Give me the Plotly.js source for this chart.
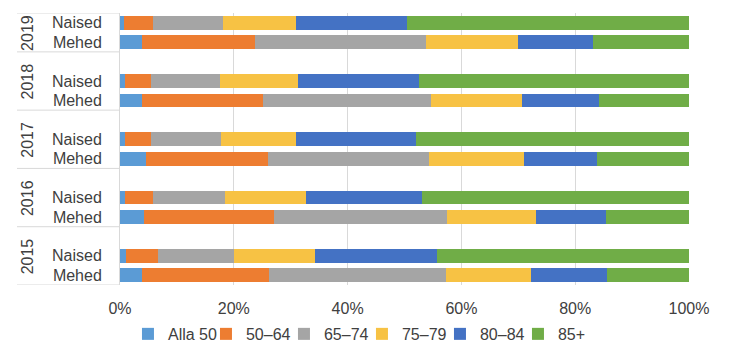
<!DOCTYPE html>
<html>
<head>
<meta charset="utf-8">
<script src="https://cdn.plot.ly/plotly-3.0.1.min.js"></script>
<style>html,body{margin:0;padding:0;background:#fff;}#chart{width:741px;height:354px;}</style>
</head>
<body>
<div id="chart"></div>
<script>
// Rows, bottom to top: for each year, Mehed then Naised
const years = ["2015", "2016", "2017", "2018", "2019"];
const sexes = ["Mehed", "Naised"];
const seriesNames = ["Alla 50", "50–64", "65–74", "75–79", "80–84", "85+"];
const colors = ["#5B9BD5", "#ED7D31", "#A5A5A5", "#F7C244", "#4472C4", "#70AD47"];

// values in % (order: 2015 M, 2015 N, 2016 M, 2016 N, ..., 2019 M, 2019 N)
const alla50 = [3.9, 1.0, 4.2, 0.8, 4.6, 0.8, 3.9, 0.9, 3.9, 0.7];
const v50_64 = [22.2, 5.7, 22.9, 5.0, 21.4, 4.7, 21.2, 4.5, 19.9, 5.1];
const v65_74 = [31.2, 13.4, 30.4, 12.7, 28.3, 12.2, 29.6, 12.2, 30.0, 12.3];
const v75_79 = [15.0, 14.1, 15.6, 14.2, 16.7, 13.3, 16.0, 13.7, 16.2, 12.8];
const v80_84 = [13.3, 21.5, 12.3, 20.3, 12.8, 21.0, 13.4, 21.2, 13.2, 19.5];
const v85 = [14.4, 44.3, 14.6, 47.0, 16.2, 48.0, 15.9, 47.5, 16.8, 49.6];

const xTicks = [0, 20, 40, 60, 80, 100];

const allSeries = [alla50, v50_64, v65_74, v75_79, v80_84, v85];

// row positions: each year occupies 3 rows (Mehed, Naised, spacer)
const ypos = [], ytext = [];
years.forEach((yr, gi) => {
  sexes.forEach((s, si) => { ypos.push(gi * 3 + si); ytext.push(s); });
});
const yMax = ypos[ypos.length - 1] + 0.5;
const yMin = -0.5;

const traces = allSeries.map((vals, i) => ({
  type: "bar",
  orientation: "h",
  name: seriesNames[i],
  x: vals,
  y: ypos,
  width: 0.705,
  marker: { color: colors[i], line: { width: 0 } },
  hoverinfo: "x+name"
}));

const fontFam = "Liberation Sans, Arial, sans-serif";
const txtColor = "#404040";

const annotations = years.map((yr, gi) => {
  const lo = gi * 3 - 0.5;
  const hi = Math.min(gi * 3 + 2.5, yMax);
  return {
    xref: "paper", yref: "y",
    x: -0.1626, y: (lo + hi) / 2,
    text: yr, textangle: -90, showarrow: false,
    xanchor: "center", yanchor: "middle",
    font: { family: fontFam, size: 16, color: txtColor }
  };
});

const boundaries = [yMin];
years.forEach((yr, gi) => boundaries.push(Math.min(gi * 3 + 2.5, yMax)));
const shapes = boundaries.map(b => ({
  type: "line", xref: "paper", yref: "y",
  x0: -0.181, x1: 0, y0: b, y1: b,
  line: { color: "#D9D9D9", width: 1 }
}));

const layout = {
  width: 741, height: 354,
  margin: { l: 120, r: 52, t: 13, b: 69, autoexpand: false },
  paper_bgcolor: "#fff", plot_bgcolor: "#fff",
  barmode: "stack",
  bargap: 0,
  showlegend: true,
  font: { family: fontFam, size: 16, color: txtColor },
  xaxis: {
    range: [0, 100],
    tickvals: xTicks,
    ticktext: xTicks.map(v => v + "%"),
    showgrid: true, gridcolor: "#D9D9D9", gridwidth: 1,
    zeroline: false, showline: false,
    ticks: "", ticklabelstandoff: 12,
    tickfont: { family: fontFam, size: 16, color: txtColor },
    automargin: false,
    fixedrange: true
  },
  yaxis: {
    range: [yMin, yMax],
    tickvals: ypos, ticktext: ytext,
    showgrid: false, zeroline: false,
    showline: true, linecolor: "#D9D9D9", linewidth: 1,
    ticks: "", ticklabelstandoff: 14,
    tickfont: { family: fontFam, size: 16, color: txtColor },
    automargin: false,
    fixedrange: true
  },
  legend: {
    orientation: "h", traceorder: "normal",
    x: 0.014, xanchor: "left",
    y: -0.18, yanchor: "middle",
    font: { family: fontFam, size: 16, color: txtColor },
    itemwidth: 30,
    entrywidth: 33, entrywidthmode: "pixels"
  },
  annotations: annotations,
  shapes: shapes
};

Plotly.newPlot("chart", traces, layout, { displayModeBar: false, staticPlot: true });
</script>
</body>
</html>
